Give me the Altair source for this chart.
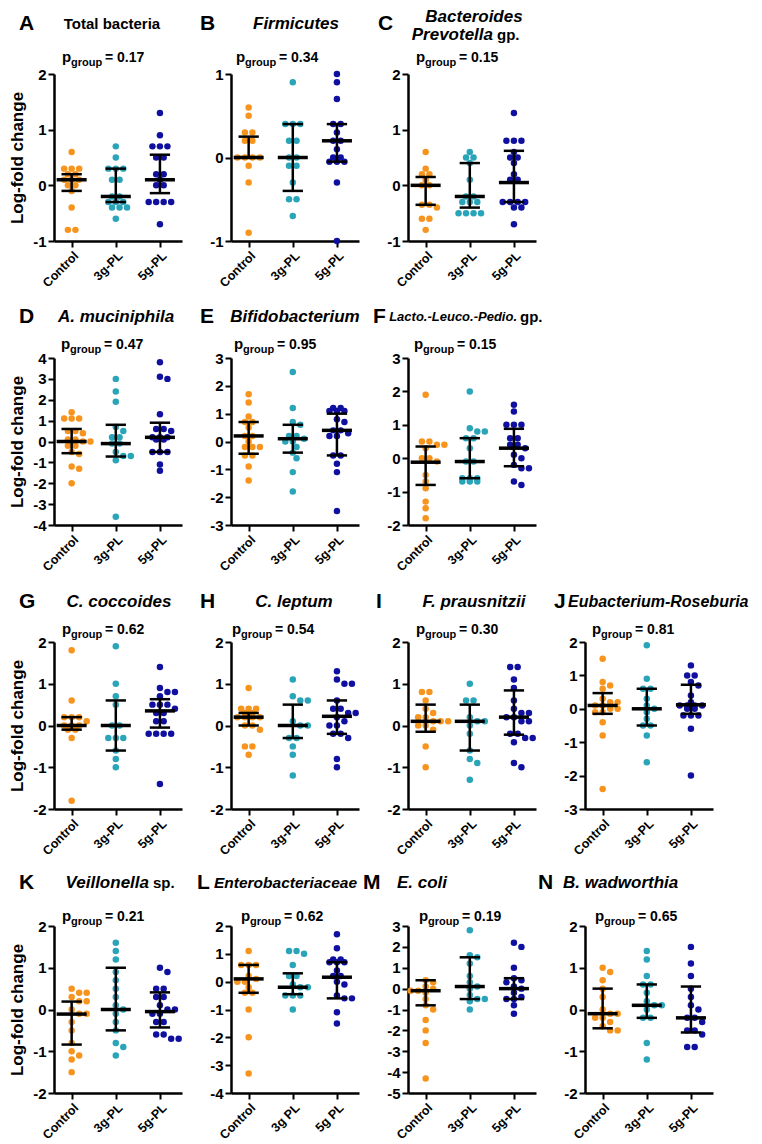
import altair as alt
import pandas as pd
from itertools import groupby

GROUPS = ["Control", "3g-PL", "5g-PL"]
COLORS = ["#F7941D", "#2AA4B8", "#1010A0"]

PANELS = ["A", "B", "C", "D", "E", "F", "G", "H", "I", "J", "K", "L", "M", "N"]
P_VALUES = ["0.17", "0.34", "0.15", "0.47", "0.95", "0.15", "0.62", "0.54",
            "0.30", "0.81", "0.21", "0.62", "0.19", "0.65"]
Y_DOMAINS = [(-1, 2), (-1, 1), (-1, 2), (-4, 4), (-3, 3), (-2, 3), (-2, 2), (-2, 2),
             (-2, 2), (-3, 2), (-2, 2), (-4, 2), (-5, 3), (-2, 2)]
X_LABELS = [GROUPS] * 11 + [["Control", "3g PL", "5g PL"]] + [GROUPS] * 2

TITLE_TEXT = {
    "A": ["Total bacteria"],
    "B": ["Firmicutes"],
    "C": ["Bacteroides", "Prevotella", "gp."],
    "D": ["A. muciniphila"],
    "E": ["Bifidobacterium"],
    "F": ["Lacto.-Leuco.-Pedio.", "gp."],
    "G": ["C. coccoides"],
    "H": ["C. leptum"],
    "I": ["F. prausnitzii"],
    "J": ["Eubacterium-Roseburia"],
    "K": ["Veillonella", "sp."],
    "L": ["Enterobacteriaceae"],
    "M": ["E. coli"],
    "N": ["B. wadworthia"],
}

# values per panel: [Control, 3g-PL, 5g-PL]
A_values = [
    [0.6, 0.3, 0.3, 0.3, 0.2, 0.2, 0.1, 0.1, 0.1, 0.0, 0.0, -0.1, -0.4, -0.8, -0.8],
    [0.7, 0.5, 0.3, 0.3, 0.3, 0.1, 0.1, -0.2, -0.2, -0.3, -0.3, -0.3, -0.4, -0.4, -0.4, -0.6],
    [1.3, 0.9, 0.7, 0.7, 0.7, 0.5, 0.5, 0.2, 0.2, 0.1, 0.0, 0.0, -0.3, -0.3, -0.3, -0.3, -0.7],
]
B_values = [
    [0.6, 0.5, 0.3, 0.3, 0.2, 0.2, 0.0, 0.0, 0.0, 0.0, -0.1, -0.3, -0.9],
    [0.9, 0.4, 0.4, 0.4, 0.2, 0.2, 0.0, 0.0, -0.1, -0.1, -0.3, -0.5, -0.5, -0.7],
    [1.0, 0.9, 0.7, 0.4, 0.4, 0.3, 0.2, 0.2, 0.1, 0.0, 0.0, -0.05, -0.05, -0.05, -0.3, -1.0],
]
C_values = [
    [0.6, 0.3, 0.2, 0.2, 0.1, 0.0, 0.0, -0.35, -0.35, -0.4, -0.6, -0.6, -0.8],
    [0.6, 0.5, 0.5, 0.4, 0.1, -0.2, -0.2, -0.3, -0.3, -0.3, -0.5, -0.5, -0.5, -0.5],
    [1.3, 0.8, 0.8, 0.8, 0.6, 0.5, 0.5, 0.4, 0.2, 0.1, 0.1, -0.3, -0.3, -0.3, -0.3, -0.4, -0.4, -0.7],
]
D_values = [
    [1.4, 1.1, 1.1, 1.1, 0.5, 0.5, 0.4, 0.1, 0.1, 0.0, 0.0, -0.2, -0.2, -0.5, -0.6, -1.2, -1.3, -2.0],
    [3.0, 2.4, 1.9, 0.7, 0.5, 0.2, 0.2, -0.1, -0.1, -0.5, -0.7, -0.7, -0.9, -3.6],
    [3.8, 3.1, 3.0, 1.3, 0.6, 0.6, 0.5, 0.2, 0.2, 0.2, 0.1, 0.1, -0.5, -0.5, -0.5, -1.1, -1.4],
]
E_values = [
    [1.7, 1.4, 0.9, 0.7, 0.7, 0.5, 0.2, 0.2, 0.0, -0.2, -0.2, -0.2, -0.5, -0.5, -0.9, -1.4],
    [2.5, 1.2, 0.7, 0.6, 0.2, 0.2, 0.1, 0.0, 0.0, -0.2, -0.4, -0.6, -1.1, -1.8],
    [1.2, 1.2, 1.1, 1.1, 1.1, 0.8, 0.7, 0.4, 0.4, 0.3, 0.2, 0.2, -0.5, -0.5, -0.8, -1.1, -2.5],
]
F_values = [
    [1.9, 0.5, 0.5, 0.4, 0.4, 0.3, 0.0, 0.0, -0.1, -0.5, -0.7, -0.9, -1.3, -1.5, -1.8],
    [2.0, 0.9, 0.8, 0.8, 0.6, 0.6, 0.3, -0.1, -0.1, -0.6, -0.6, -0.6, -0.7, -0.7, -0.7],
    [1.6, 1.4, 1.0, 1.0, 1.0, 0.6, 0.6, 0.4, 0.4, 0.3, 0.1, 0.0, -0.2, -0.3, -0.3, -0.7, -0.8],
]
G_values = [
    [1.8, 0.6, 0.2, 0.2, 0.2, 0.1, 0.0, 0.0, 0.0, -0.1, -0.1, -0.3, -1.8],
    [1.9, 1.0, 0.7, 0.5, 0.0, 0.0, -0.3, -0.3, -0.3, -0.6, -0.8, -1.0],
    [1.4, 0.9, 0.8, 0.8, 0.7, 0.5, 0.5, 0.5, 0.4, 0.3, 0.3, 0.1, 0.1, -0.2, -0.2, -0.2, -0.2, -1.4],
]
H_values = [
    [0.9, 0.4, 0.4, 0.4, 0.3, 0.3, 0.2, 0.2, 0.2, 0.2, 0.0, 0.0, -0.1, -0.5, -0.5, -0.7],
    [1.1, 0.7, 0.6, 0.6, 0.1, 0.0, 0.0, -0.3, -0.3, -0.5, -0.7, -1.2],
    [1.3, 1.1, 1.0, 1.0, 0.6, 0.4, 0.4, 0.3, 0.3, 0.2, 0.1, 0.0, 0.0, -0.2, -0.2, -0.3, -0.8, -1.0],
]
I_values = [
    [0.8, 0.8, 0.6, 0.4, 0.3, 0.2, 0.2, 0.1, 0.1, 0.1, 0.0, 0.0, -0.1, -0.5, -1.0],
    [1.0, 0.6, 0.6, 0.2, 0.1, 0.1, 0.0, -0.2, -0.6, -0.8, -0.9, -1.3],
    [1.4, 1.4, 1.1, 0.9, 0.6, 0.4, 0.3, 0.3, 0.2, 0.2, 0.1, 0.1, -0.2, -0.2, -0.3, -0.3, -0.4, -0.9, -1.0],
]
J_values = [
    [1.5, 0.8, 0.7, 0.6, 0.3, 0.2, 0.2, 0.1, 0.1, 0.0, 0.0, -0.1, -0.1, -0.4, -0.8, -2.4],
    [1.9, 0.9, 0.6, 0.6, 0.3, 0.1, 0.0, -0.1, -0.3, -0.5, -0.5, -0.8, -1.6],
    [1.3, 1.0, 1.0, 0.8, 0.7, 0.4, 0.2, 0.1, 0.1, 0.1, 0.1, 0.0, 0.0, -0.2, -0.2, -0.2, -0.6, -2.0],
]
K_values = [
    [0.5, 0.4, 0.4, 0.3, 0.2, 0.2, 0.0, -0.1, -0.1, -0.3, -0.5, -0.8, -1.0, -1.1, -1.2, -1.5],
    [1.6, 1.4, 1.2, 0.9, 0.7, 0.5, 0.3, 0.1, 0.0, -0.1, -0.3, -0.5, -0.8, -0.9, -1.1],
    [1.0, 0.9, 0.5, 0.5, 0.3, 0.3, 0.1, 0.0, 0.0, -0.1, -0.1, -0.3, -0.3, -0.6, -0.6, -0.7, -0.7],
]
L_values = [
    [1.1, 0.6, 0.6, 0.6, 0.2, 0.1, 0.0, 0.0, -0.2, -0.4, -0.4, -1.0, -2.0, -3.3],
    [1.1, 1.1, 1.0, 0.6, 0.2, 0.2, -0.1, -0.2, -0.2, -0.5, -0.5, -0.5, -1.0],
    [1.7, 1.2, 0.8, 0.8, 0.7, 0.7, 0.7, 0.4, 0.2, 0.2, 0.0, -0.1, -0.5, -0.6, -0.6, -1.1, -1.5],
]
M_values = [
    [0.4, 0.3, 0.1, 0.0, -0.1, -0.1, -0.2, -0.5, -0.8, -1.0, -1.5, -2.0, -2.6, -4.3],
    [2.8, 1.6, 1.5, 1.2, 0.6, 0.3, 0.1, 0.0, -0.3, -0.5, -0.5, -0.6, -1.0],
    [2.2, 2.0, 1.0, 0.5, 0.4, 0.3, 0.1, 0.0, -0.2, -0.4, -0.5, -0.5, -0.8, -1.2],
]
N_values = [
    [1.0, 0.9, 0.7, 0.5, 0.3, 0.0, -0.1, -0.1, -0.2, -0.2, -0.3, -0.4, -0.5, -0.5],
    [1.4, 1.2, 0.8, 0.6, 0.6, 0.4, 0.2, 0.1, 0.1, 0.0, -0.2, -0.2, -0.8, -1.2],
    [1.5, 1.1, 0.8, 0.5, 0.3, 0.1, 0.0, -0.2, -0.2, -0.3, -0.5, -0.5, -0.6, -0.9, -0.9],
]

# median, Q1, Q3 per group
A_stats = [[0.1, -0.1, 0.2], [-0.2, -0.3, 0.3], [0.1, -0.14, 0.55]]
B_stats = [[0.0, 0.0, 0.25], [0.0, -0.4, 0.4], [0.2, -0.05, 0.4]]
C_stats = [[0.0, -0.35, 0.15], [-0.2, -0.4, 0.4], [0.05, -0.3, 0.62]]
D_stats = [[0.0, -0.56, 0.6], [-0.1, -0.72, 0.8], [0.2, -0.5, 0.9]]
E_stats = [[0.2, -0.44, 0.7], [0.1, -0.4, 0.6], [0.4, -0.5, 1.0]]
F_stats = [[-0.12, -0.8, 0.35], [-0.1, -0.6, 0.6], [0.3, -0.24, 0.88]]
G_stats = [[0.0, -0.1, 0.2], [0.0, -0.6, 0.6], [0.35, -0.05, 0.63]]
H_stats = [[0.2, 0.0, 0.3], [0.0, -0.3, 0.5], [0.22, -0.2, 0.6]]
I_stats = [[0.1, -0.15, 0.5], [0.1, -0.6, 0.5], [0.2, -0.22, 0.84]]
J_stats = [[0.1, -0.15, 0.47], [0.0, -0.5, 0.6], [0.12, -0.15, 0.72]]
K_stats = [[-0.11, -0.84, 0.19], [0.0, -0.5, 1.0], [-0.05, -0.43, 0.41]]
L_stats = [[0.1, -0.4, 0.6], [-0.2, -0.45, 0.3], [0.16, -0.6, 0.7]]
M_stats = [[-0.1, -0.8, 0.4], [0.1, -0.5, 1.5], [0.0, -0.5, 0.5]]
N_stats = [[-0.1, -0.45, 0.5], [0.1, -0.2, 0.6], [-0.2, -0.55, 0.55]]

VALUES = [A_values, B_values, C_values, D_values, E_values, F_values, G_values,
          H_values, I_values, J_values, K_values, L_values, M_values, N_values]
STATS = [A_stats, B_stats, C_stats, D_stats, E_stats, F_stats, G_stats,
         H_stats, I_stats, J_stats, K_stats, L_stats, M_stats, N_stats]

# ---------------- layout (positions / styles) ----------------
FONT = "Liberation Sans"
W, H = 128, 167
X_DOMAIN = [-0.4, 2.5]
PX_PER_X = W / (X_DOMAIN[1] - X_DOMAIN[0])
ROW_OF = [0, 0, 0, 1, 1, 1, 2, 2, 2, 2, 3, 3, 3, 3]
TITLE_Y = [-50, -41, -40, -43]
PG_Y = [-12, -9, -8, -5]
FIRST_COL = {0, 3, 6, 10}
LETTER_DX = [-35, -31, -30, -35, -31, -35, -35, -31, -32, -31, -35, -34, -45, -47]
PG_DX = [8, 5, 8, 7, 3, 6, 8, 1, 8, 7, 8, 10, 11, 10]
TITLE_POS = {  # (dx, dy, align, style, size) for each title piece
    "A": [(58, 0, "center", "normal", 15)],
    "B": [(65, 0, "center", "italic", 17)],
    "C": [(66, -7, "center", "italic", 17), (85, 11, "right", "italic", 17), (89, 11, "left", "normal", 15)],
    "D": [(62, 0, "center", "italic", 17)],
    "E": [(64, 0, "center", "italic", 17)],
    "F": [(109, 0, "right", "italic", 13), (112, 0, "left", "normal", 15)],
    "G": [(65, 0, "center", "italic", 17)],
    "H": [(63, 0, "center", "italic", 17)],
    "I": [(66, 0, "center", "italic", 17)],
    "J": [(-17, 0, "left", "italic", 16)],
    "K": [(95, 0, "right", "italic", 17), (99, 0, "left", "normal", 15)],
    "L": [(-17, 0, "left", "italic", 15.5)],
    "M": [(-11, 0, "left", "italic", 17)],
    "N": [(-22, 0, "left", "italic", 17)],
}
DUMMY = pd.DataFrame({"d": [0]})


def swarm(vals, ppu, d=7.5):
    """Deterministic beeswarm offsets (pixels) for a list of values."""
    order = sorted(range(len(vals)), key=lambda k: -vals[k])
    offs = [0.0] * len(vals)
    placed = []
    cands = [0, d / 2, -d / 2, d, -d, 1.5 * d, -1.5 * d, 2 * d, -2 * d]
    for v, idxs in groupby(order, key=lambda k: vals[k]):
        idxs = list(idxs)
        n = len(idxs)
        y = v * ppu
        base = [(k - (n - 1) / 2) * d for k in range(n)]
        chosen = 0
        for s in cands:
            if all((b + s - px) ** 2 + (y - py) ** 2 >= (0.8 * d) ** 2
                   for b in base for (px, py) in placed):
                chosen = s
                break
        for k, idx in enumerate(idxs):
            offs[idx] = base[k] + chosen
            placed.append((base[k] + chosen, y))
    return offs


def txt(text, x, y, size, align="left", style="normal", baseline="middle"):
    return alt.Chart(DUMMY).mark_text(
        text=text, align=align, baseline=baseline, fontSize=size,
        fontStyle=style, fontWeight="bold", font=FONT, color="black"
    ).encode(x=alt.value(x), y=alt.value(y))


def make_panel(i):
    key = PANELS[i]
    lo, hi = Y_DOMAINS[i]
    ppu = H / (hi - lo)
    rows = []
    for g, gv in enumerate(VALUES[i]):
        offs = swarm(gv, ppu)
        for v, o in zip(gv, offs):
            rows.append({"group": GROUPS[g], "xpos": g + o / PX_PER_X, "val": v})
    pts = pd.DataFrame(rows)
    st = pd.DataFrame([
        {"g": g, "med": s[0], "q1": s[1], "q3": s[2],
         "m1": g - 0.34, "m2": g + 0.34, "c1": g - 0.23, "c2": g + 0.23}
        for g, s in enumerate(STATS[i])
    ])
    xs = alt.Scale(domain=X_DOMAIN, nice=False, zero=False)
    ys = alt.Scale(domain=[lo, hi], nice=False, zero=False)
    labs = X_LABELS[i]
    xaxis = alt.Axis(values=[0, 1, 2], title=None,
                     labelExpr=f"datum.value == 0 ? '{labs[0]}' : datum.value == 1 ? '{labs[1]}' : '{labs[2]}'")
    yaxis = alt.Axis(values=list(range(lo, hi + 1)), labelExpr="'' + datum.value",
                     title="Log-fold change" if i in FIRST_COL else None)

    def X(f):
        return alt.X(f, type="quantitative", scale=xs, axis=xaxis)

    def Y(f):
        return alt.Y(f, type="quantitative", scale=ys, axis=yaxis)

    points = alt.Chart(pts).mark_circle(size=42, opacity=1).encode(
        x=X("xpos"), y=Y("val"),
        color=alt.Color("group:N", scale=alt.Scale(domain=GROUPS, range=COLORS), legend=None),
    )
    vline = alt.Chart(st).mark_rule(color="black", strokeWidth=2.5).encode(
        x=X("g"), y=Y("q1"), y2="q3")
    cap1 = alt.Chart(st).mark_rule(color="black", strokeWidth=2.5).encode(
        x=X("c1"), x2="c2", y=Y("q1"))
    cap3 = alt.Chart(st).mark_rule(color="black", strokeWidth=2.5).encode(
        x=X("c1"), x2="c2", y=Y("q3"))
    med = alt.Chart(st).mark_rule(color="black", strokeWidth=3.5).encode(
        x=X("m1"), x2="m2", y=Y("med"))

    r = ROW_OF[i]
    ty = TITLE_Y[r]
    layers = [points, vline, cap1, cap3, med]
    layers.append(txt(key, LETTER_DX[i], ty, 21))
    for text, (dx, dy, align, style, size) in zip(TITLE_TEXT[key], TITLE_POS[key]):
        layers.append(txt(text, dx, ty + dy, size, align=align, style=style))
    px = PG_DX[i]
    py = PG_Y[r]
    layers.append(txt("p", px, py, 15, baseline="alphabetic"))
    layers.append(txt("group", px + 9, py + 4, 11, baseline="alphabetic"))
    layers.append(txt("= " + P_VALUES[i], px + 43, py, 14, baseline="alphabetic"))
    return alt.layer(*layers).properties(width=W, height=H)


def blank():
    return alt.Chart(DUMMY).mark_point(opacity=0).encode(
        x=alt.X("d:Q", axis=None), y=alt.Y("d:Q", axis=None)
    ).properties(width=W, height=H)


panels = [make_panel(i) for i in range(len(PANELS))]
cells = panels[0:3] + [blank()] + panels[3:6] + [blank()] + panels[6:]

chart = alt.concat(
    *cells, columns=4, spacing={"row": 117, "column": 49}, bounds="flush"
).properties(
    padding={"left": 0, "top": 0, "right": 0, "bottom": 0}
).configure_view(stroke=None).configure_axis(
    grid=False, domainColor="black", domainWidth=2.5, tickColor="black",
    tickWidth=2, tickSize=6, labelColor="black", labelFont=FONT,
    labelFontWeight="bold", titleFont=FONT, titleFontWeight="bold", titleColor="black",
).configure_axisY(
    labelFontSize=15, titleFontSize=17, labelPadding=2, titlePadding=6,
).configure_axisX(
    labelFontSize=12.5, labelAngle=-45, labelPadding=2,
)

chart.save("out.html", embed_options={"renderer": "svg", "actions": False})
